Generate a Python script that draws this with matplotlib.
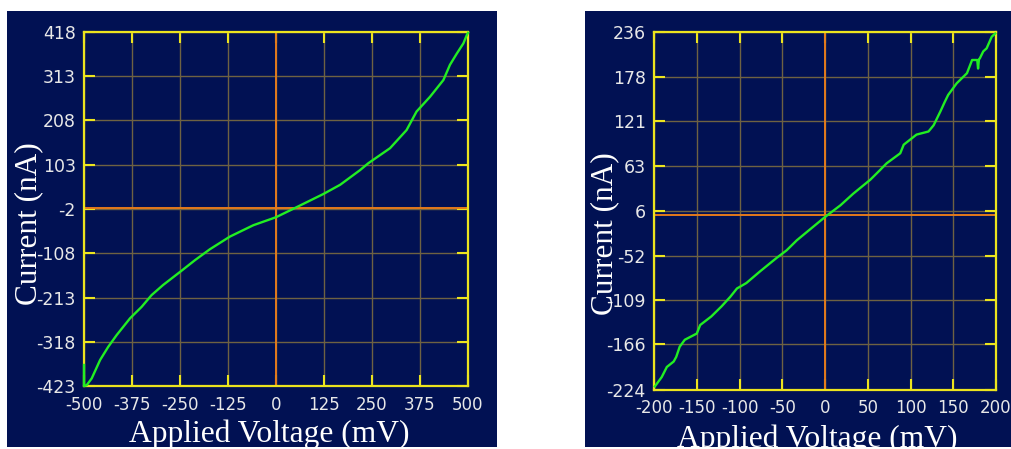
import matplotlib.pyplot as plt
from matplotlib.patches import Rectangle

# left sweep, -500..500 mV
v_left = [-500, -500, -493, -480, -458, -437, -415, -380, -350, -324, -294, -250,
          -211, -172, -120, -59, 0, 54, 123, 167, 219, 240, 297, 340, 366,
          401, 436, 453, 471, 488, 497, 500]
i_left = [-373, -423, -421, -405, -361, -330, -302, -262, -235, -207, -183, -152,
          -124, -98, -68, -41, -22, 2, 33, 55, 90, 106, 142, 185, 229,
          264, 304, 340, 367, 391, 411, 416]

# right sweep, -200..200 mV
v_right = [-199, -191, -185, -177, -174, -170, -164, -150, -146, -133, -121, -111,
           -103, -92, -76, -57, -45, -33, 0, 18, 33, 53, 64, 72, 88, 92, 107,
           121, 127, 135, 140, 144, 154, 166, 172, 178, 179, 180, 181, 185, 189,
           195, 199]
i_right = [-220, -208, -195, -188, -182, -169, -160, -152, -141, -130, -117, -105,
           -94, -87, -72, -55, -45, -32, -2, 13, 28, 46, 58, 67, 80, 91, 104,
           108, 116, 134, 146, 155, 170, 183, 200, 200, 189, 201, 202, 211, 215,
           230, 234]

left_xticks = [-500, -375, -250, -125, 0, 125, 250, 375, 500]
left_yticks = [-423, -318, -213, -108, -2, 103, 208, 313, 418]
right_xticks = [-200, -150, -100, -50, 0, 50, 100, 150, 200]
right_yticks = [-224, -166, -109, -52, 6, 63, 121, 178, 236]

navy = '#011153'
yellow = '#ece41e'
orange = '#e47a1c'
green = '#22ee22'
gridc = '#6e6242'
txt = '#e8e8e8'

fig = plt.figure(figsize=(10.11, 4.49), dpi=100)
fig.patch.set_facecolor('white')
fig.patches.append(Rectangle((0.0069, 0.0045), 0.4847, 0.971, transform=fig.transFigure,
                             facecolor=navy, edgecolor='none', zorder=-1))
fig.patches.append(Rectangle((0.5786, 0.0045), 0.4214, 0.971, transform=fig.transFigure,
                             facecolor=navy, edgecolor='none', zorder=-1))

ax1 = fig.add_axes([0.0831, 0.1403, 0.3798, 0.7884])
ax2 = fig.add_axes([0.6469, 0.1325, 0.3383, 0.7962])


def style(ax, xt, yt, xl, yl, xlab_pos, ylab_pos):
    ax.set_facecolor(navy)
    ax.set_xlim(xl)
    ax.set_ylim(yl)
    ax.set_xticks(xt)
    ax.set_yticks(yt)
    ax.set_xticklabels([str(t) for t in xt], fontsize=12, color=txt)
    ax.set_yticklabels([str(t) for t in yt], fontsize=12.5, color=txt)
    ax.tick_params(direction='in', length=8, width=1.5, color=yellow,
                   top=True, right=True, pad=7)
    ax.tick_params(axis='y', pad=6)
    for s in ax.spines.values():
        s.set_color(yellow)
        s.set_linewidth(1.6)
    ax.grid(True, color=gridc, lw=1)
    ax.set_axisbelow(True)
    ax.axvline(0, color=orange, lw=1.4, zorder=1.5)
    ax.axhline(0, color=orange, lw=1.4, zorder=1.5)
    ax.text(xlab_pos[0], xlab_pos[1], 'Applied Voltage (mV)', transform=ax.transAxes,
            family='Liberation Serif', fontsize=22.7, color='white', ha='center', va='top')
    ax.text(ylab_pos[0], ylab_pos[1], 'Current (nA)', transform=ax.transAxes, rotation=90,
            family='Liberation Serif', fontsize=22.5, color='white', ha='center', va='center')


style(ax1, left_xticks, left_yticks, (-500, 500), (-423, 418), (0.482, -0.094), (-0.143, 0.46))
style(ax2, right_xticks, right_yticks, (-200, 200), (-224, 236), (0.478, -0.097), (-0.143, 0.435))

ax1.plot(v_left, i_left, color=green, lw=1.7, zorder=3, clip_on=False)
ax2.plot(v_right, i_right, color=green, lw=1.7, zorder=3, clip_on=False)

fig.savefig('out.png', dpi=100)
